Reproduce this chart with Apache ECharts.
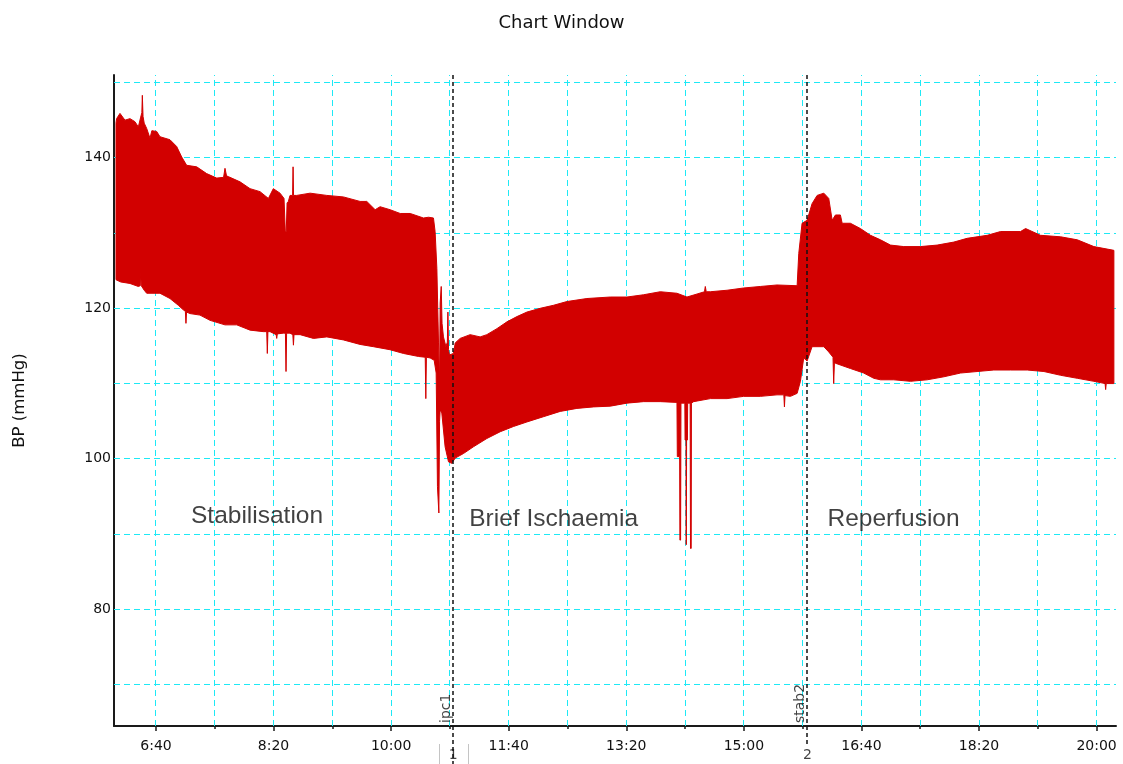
<!DOCTYPE html>
<html>
<head>
<meta charset="utf-8">
<script src="https://cdn.jsdelivr.net/npm/echarts@6/dist/echarts.min.js"></script>
<style>html,body{margin:0;padding:0;background:#fff;}#chart{width:1123px;height:764px;}</style>
</head>
<body>
<div id="chart"></div>
<script>
// ---- axis ranges (minutes since midnight / mmHg) ----
const X_MIN = 364.3, X_MAX = 1216.5;
const Y_MIN = 64.5, Y_MAX = 151.0;

// ---- tick / grid values ----
const xTickValues = [400, 500, 600, 700, 800, 900, 1000, 1100, 1200];
const xMinorTickValues = [450, 550, 650, 750, 850, 950, 1050, 1150];
const xGridValues = [400, 450, 500, 550, 600, 650, 700, 750, 800, 850, 900, 950, 1000, 1050, 1100, 1150, 1200];
const yTickValues = [80, 100, 120, 140];
const yGridValues = [70, 80, 90, 100, 110, 120, 130, 140, 150];

// ---- BP envelope: [time (min), mmHg] ----
const systolicEnvelope = [
  [366.0,144.6],[366.5,145.2],[369.4,145.9],[373.6,145.0],[377.9,145.2],[382.1,144.8],[385.0,144.1],[387.0,145.4],
  [388.0,146.0],[388.4,148.3],[389.0,145.5],[390.0,144.6],[392.1,143.9],[394.9,142.6],[396.5,143.6],[400.6,143.5],
  [403.4,142.8],[411.9,142.4],[417.6,141.5],[421.9,140.1],[426.1,139.0],[434.6,138.8],[443.1,137.9],[451.7,137.3],
  [457.5,137.4],[458.7,138.6],[460.0,137.6],[461.5,137.5],[471.5,136.8],[480.0,135.9],[488.5,135.5],[495.6,134.6],
  [499.8,135.9],[505.5,135.3],[508.9,134.6],[510.0,130.2],[510.8,130.2],[511.5,134.0],[512.6,134.2],[514.0,135.0],
  [516.2,135.0],[516.6,138.8],[517.0,135.0],[519.7,135.0],[531.1,135.3],[545.3,135.0],[559.4,134.8],[573.6,134.2],
  [579.3,134.2],[586.4,133.1],[590.6,133.5],[599.1,133.1],[607.7,132.6],[616.2,132.6],[627.5,132.0],[631.8,132.1],
  [636.0,132.0],[637.4,130.2],[638.9,125.3],[640.3,115.4],[641.2,110.0],[641.7,120.7],[642.6,122.9],[643.3,118.0],
  [644.5,116.2],[646.6,114.9],[647.8,115.5],[648.3,119.5],[648.8,114.5],[649.6,113.8],[653.0,114.0],[654.5,115.4],
  [658.7,116.0],[667.2,116.5],[675.7,116.2],[681.4,116.5],[690.0,117.3],[698.5,118.2],[707.0,118.9],[715.5,119.5],
  [726.8,120.0],[738.1,120.4],[749.5,120.9],[766.5,121.3],[786.4,121.5],[800.6,121.5],[814.7,121.8],[828.9,122.2],
  [843.1,122.0],[851.6,121.5],[860.2,121.9],[866.5,122.2],[867.2,122.9],[868.0,122.2],[871.5,122.2],[885.7,122.4],
  [899.8,122.7],[914.0,122.9],[928.2,123.1],[945.3,123.0],[946.7,127.3],[949.5,131.3],[953.8,131.7],[958.0,133.9],
  [962.3,135.0],[968.0,135.3],[972.2,134.6],[975.1,131.7],[977.9,132.4],[982.1,132.4],[983.6,131.3],[990.6,131.3],
  [999.1,130.6],[1007.7,129.7],[1016.2,129.1],[1024.7,128.4],[1036.0,128.2],[1050.2,128.2],[1064.4,128.4],[1078.6,128.8],
  [1089.9,129.3],[1107.0,129.7],[1118.3,130.2],[1135.3,130.2],[1139.6,130.6],[1152.3,129.7],[1169.4,129.5],[1183.6,129.1],
  [1197.7,128.2],[1214.7,127.7]
];
const diastolicEnvelope = [
  [366.0,123.8],[370.0,123.5],[377.9,123.3],[385.0,122.9],[386.6,123.0],[387.0,124.9],[387.5,123.0],[390.0,122.4],
  [392.1,122.0],[403.4,122.0],[411.9,121.3],[419.0,120.4],[423.2,119.8],[425.0,119.6],[425.5,118.0],[426.0,119.5],
  [428.9,119.3],[437.4,119.1],[446.0,118.4],[458.7,117.8],[468.7,117.8],[480.0,117.1],[491.3,116.9],[494.2,116.9],
  [494.7,114.0],[495.2,116.9],[497.0,116.9],[502.2,116.5],[502.7,116.0],[503.2,116.6],[508.3,116.7],[510.1,116.7],
  [510.6,111.6],[511.1,116.7],[514.0,116.7],[516.4,116.5],[516.9,115.1],[517.4,116.5],[522.6,116.5],[533.9,116.0],
  [545.3,116.2],[559.4,115.8],[573.6,115.2],[585.0,114.9],[599.0,114.5],[610.5,114.0],[623.3,113.6],[629.0,113.5],
  [629.5,108.0],[630.0,113.5],[633.2,113.4],[636.6,113.1],[638.3,111.4],[639.4,96.3],[640.6,92.8],[641.2,105.0],
  [641.7,106.5],[643.1,106.1],[645.9,101.6],[648.8,99.6],[651.6,99.4],[654.5,100.1],[661.5,100.7],[670.0,101.6],
  [681.4,102.7],[692.8,103.6],[704.1,104.3],[715.5,104.9],[729.6,105.6],[743.8,106.3],[758.0,106.7],[772.2,106.9],
  [786.4,107.0],[800.6,107.4],[814.7,107.6],[828.9,107.6],[843.1,107.5],[843.4,100.3],[845.4,100.3],[845.6,89.2],
  [846.2,89.2],[846.5,107.4],[849.8,107.4],[850.0,102.5],[850.8,102.5],[850.9,88.6],[851.1,88.6],[851.3,102.5],
  [852.0,102.5],[852.2,107.4],[854.3,107.4],[854.6,88.1],[855.2,88.1],[855.4,107.4],[857.3,107.6],[871.5,108.0],
  [885.7,108.0],[899.8,108.3],[914.0,108.3],[928.2,108.5],[934.0,108.5],[934.5,106.9],[935.0,108.4],[939.6,108.3],
  [945.3,108.7],[948.1,110.3],[950.9,113.4],[953.8,113.0],[958.0,114.9],[968.0,114.9],[972.2,114.2],[975.8,113.5],
  [976.4,110.0],[977.0,112.7],[977.9,112.7],[990.6,112.0],[1001.9,111.4],[1010.5,110.7],[1016.2,110.5],[1027.5,110.5],
  [1041.7,110.3],[1055.9,110.5],[1070.1,110.9],[1084.3,111.4],[1098.4,111.6],[1112.6,111.8],[1126.8,111.8],[1141.0,111.8],
  [1155.2,111.6],[1169.4,111.1],[1183.6,110.7],[1197.7,110.3],[1207.2,110.0],[1207.7,109.2],[1208.2,110.0],[1214.7,110.0]
];

// ---- events & phases ----
const eventTimes = [652.8, 954.0];
const eventTags = ['ipc1', 'stab2'];
const eventNumbers = ['1', '2'];
const phaseNames = ['Stabilisation', 'Brief Ischaemia', 'Reperfusion'];
const phaseTimes = [429.8, 666.4, 971.1];
const phaseBP = [92.4, 92.0, 92.0];

function fmtTime(m) {
  const h = Math.floor(m / 60), mm = Math.round(m - h * 60);
  return h + ':' + (mm < 10 ? '0' : '') + mm;
}
function crisp(v) { return Math.round(v - 0.5) + 0.5; }

const FONT = 'DejaVu Sans';
const GRID_COLOR = '#1ee9f5';
const chart = echarts.init(document.getElementById('chart'), null, {renderer: 'canvas'});

const option = {
  animation: false,
  backgroundColor: '#ffffff',
  title: {
    text: 'Chart Window', left: 'center', top: 9,
    textStyle: {fontFamily: FONT, fontSize: 18, fontWeight: 'normal', color: '#111'}
  },
  grid: [
    {left: 114, right: 7, top: 75, bottom: 38},
    {left: 114, right: 7, top: 75, bottom: 0}
  ],
  xAxis: [
    {
      type: 'value', gridIndex: 0, min: X_MIN, max: X_MAX, position: 'bottom',
      axisLine: {onZero: false, lineStyle: {color: '#1a1a1a', width: 2}},
      axisTick: {show: true, customValues: xTickValues, length: 5, lineStyle: {color: '#1a1a1a', width: 1.5}},
      axisLabel: {customValues: xTickValues, formatter: fmtTime, margin: 13,
        fontFamily: FONT, fontSize: 14, color: '#111'},
      splitLine: {show: false}
    },
    {
      type: 'value', gridIndex: 0, min: X_MIN, max: X_MAX, position: 'bottom',
      axisLine: {show: false, onZero: false},
      axisTick: {show: true, customValues: xMinorTickValues, length: 3, lineStyle: {color: '#1a1a1a', width: 1.5}},
      axisLabel: {show: false},
      splitLine: {show: false}
    },
    {type: 'value', gridIndex: 1, min: X_MIN, max: X_MAX, show: false, splitLine: {show: false}}
  ],
  yAxis: [
    {
      type: 'value', gridIndex: 0, min: Y_MIN, max: Y_MAX,
      name: 'BP (mmHg)', nameLocation: 'middle', nameGap: 86, nameRotate: 90,
      nameTextStyle: {fontFamily: FONT, fontSize: 16.5, color: '#111'},
      axisLine: {show: true, onZero: false, lineStyle: {color: '#1a1a1a', width: 2}},
      axisTick: {show: false},
      axisLabel: {customValues: yTickValues, margin: 3, fontFamily: FONT, fontSize: 14, color: '#111'},
      splitLine: {show: false}
    },
    {type: 'value', gridIndex: 1, min: 0, max: 1, show: false, splitLine: {show: false}}
  ],
  series: [
    // horizontal grid lines
    {
      type: 'custom', xAxisIndex: 0, yAxisIndex: 0, z: 1, silent: true,
      data: yGridValues.map(v => [X_MIN, v]),
      renderItem: function (params, api) {
        const a = api.coord([X_MIN, api.value(1)]), b = api.coord([X_MAX, api.value(1)]);
        const y = crisp(a[1]);
        return {type: 'line', shape: {x1: a[0], y1: y, x2: b[0], y2: y},
          style: {stroke: GRID_COLOR, lineWidth: 1, lineDash: [6, 4]}};
      }
    },
    // vertical grid lines
    {
      type: 'custom', xAxisIndex: 0, yAxisIndex: 0, z: 1, silent: true,
      data: xGridValues.map(v => [v, Y_MIN]),
      renderItem: function (params, api) {
        const a = api.coord([api.value(0), Y_MIN]), b = api.coord([api.value(0), Y_MAX]);
        const x = crisp(a[0]);
        return {type: 'line', shape: {x1: x, y1: a[1], x2: x, y2: b[1]},
          style: {stroke: GRID_COLOR, lineWidth: 1, lineDash: [6, 4]}};
      }
    },
    // BP band
    {
      type: 'custom', xAxisIndex: 0, yAxisIndex: 0, z: 3, silent: true,
      data: [[systolicEnvelope[0][0], systolicEnvelope[0][1]]],
      encode: {x: 0, y: 1},
      renderItem: function (params, api) {
        const pts = [];
        for (let i = 0; i < systolicEnvelope.length; i++) pts.push(api.coord(systolicEnvelope[i]));
        for (let i = diastolicEnvelope.length - 1; i >= 0; i--) pts.push(api.coord(diastolicEnvelope[i]));
        return {type: 'polygon', shape: {points: pts},
          style: {fill: '#d20000', stroke: '#d20000', lineWidth: 1, lineJoin: 'miter'}};
      }
    },
    // phase labels
    {
      type: 'scatter', xAxisIndex: 0, yAxisIndex: 0, symbolSize: 0, z: 4, silent: true,
      data: phaseNames.map((n, i) => ({name: n, value: [phaseTimes[i], phaseBP[i]]})),
      label: {show: true, position: 'right', distance: 0, formatter: '{b}',
        fontFamily: 'Liberation Sans', fontSize: 24.5, color: '#111'}
    },
    // event lines (full-height grid)
    {
      type: 'custom', xAxisIndex: 2, yAxisIndex: 1, z: 6, silent: true,
      data: eventTimes.map((t, i) => [t, i === 0 ? 0 : 0.029]),
      renderItem: function (params, api) {
        const a = api.coord([api.value(0), 1]), b = api.coord([api.value(0), api.value(1)]);
        const x = Math.round(a[0]);
        return {type: 'line', shape: {x1: x, y1: a[1], x2: x, y2: b[1]},
          style: {stroke: '#111', lineWidth: 1.5, lineDash: [4, 3]}};
      }
    },
    // tab separators around event 1
    {
      type: 'custom', xAxisIndex: 2, yAxisIndex: 1, z: 6, silent: true,
      data: [[eventTimes[0] - 11.9, 0.029], [eventTimes[0] + 12.7, 0.029]],
      renderItem: function (params, api) {
        const a = api.coord([api.value(0), api.value(1)]), b = api.coord([api.value(0), 0]);
        const x = crisp(a[0]);
        return {type: 'line', shape: {x1: x, y1: a[1], x2: x, y2: b[1]},
          style: {stroke: '#c4c4c4', lineWidth: 1}};
      }
    },
    {
      type: 'scatter', xAxisIndex: 2, yAxisIndex: 1, symbolSize: 0, z: 7, silent: true,
      data: eventNumbers.map((n, i) => ({name: n, value: [eventTimes[i], 0.013]})),
      label: {show: true, position: 'inside', formatter: '{b}', fontFamily: FONT, fontSize: 14, color: '#111'}
    },
    {
      type: 'scatter', xAxisIndex: 2, yAxisIndex: 1, symbolSize: 0, z: 7, silent: true,
      data: eventTags.map((n, i) => ({name: n, value: [eventTimes[i], 0.0595]})),
      label: {show: true, position: 'inside', formatter: '{b}', rotate: 90, align: 'left', verticalAlign: 'bottom',
        fontFamily: FONT, fontSize: 14, color: '#111'}
    }
  ]
};
chart.setOption(option);
</script>
</body>
</html>
